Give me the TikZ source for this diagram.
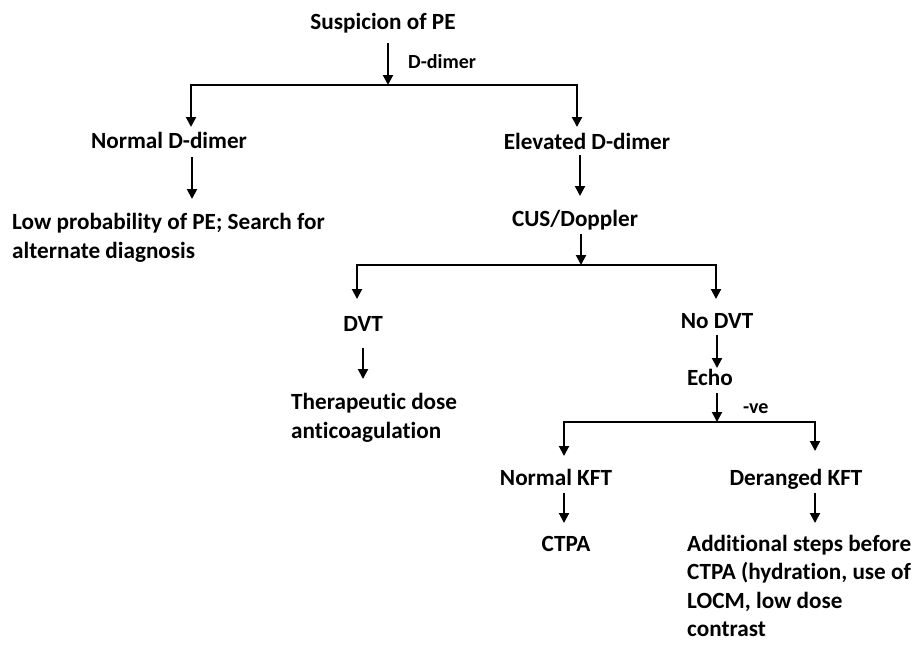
\documentclass[tikz,border=0pt]{standalone}
\usepackage{fontspec}
\setmainfont{Carlito}[Ligatures={NoCommon}]
\usetikzlibrary{arrows.meta}
\begin{document}
\begin{tikzpicture}[x=1pt,y=-1pt,
  txt/.style={inner sep=0pt,font=\fontsize{23.2}{29}\selectfont\bfseries},
  lbl/.style={inner sep=0pt,font=\fontsize{20}{24}\selectfont\bfseries},
  ml/.style={txt,align=left},
  arr/.style={line width=2pt,-{Triangle[length=10pt,width=10pt]}},
  ln/.style={line width=2pt}]
\useasboundingbox (0,0) rectangle (915,649);
% text nodes
\node[txt,anchor=base] (s) at (383,29) {Suspicion of PE};
\node[lbl,anchor=base west] (ddl) at (408,68) {D-dimer};
\node[txt,anchor=base] (nd) at (169,148) {Normal D-dimer};
\node[txt,anchor=base] (ed) at (587,149) {Elevated D-dimer};
\node[ml,anchor=base west] (lp) at (12,258) {Low probability of PE; Search for\\alternate diagnosis};
\node[txt,anchor=base] (cus) at (575,226) {CUS/Doppler};
\node[txt,anchor=base] (dvt) at (363,331) {DVT};
\node[txt,anchor=base] (ndvt) at (717,328) {No DVT};
\node[ml,anchor=base west] (th) at (291,438) {Therapeutic dose\\anticoagulation};
\node[txt,anchor=base] (echo) at (710,385) {Echo};
\node[lbl,anchor=base west] (ve) at (743,413) {-ve};
\node[txt,anchor=base] (nk) at (556,485) {Normal KFT};
\node[txt,anchor=base] (dk) at (796,485) {Deranged KFT};
\node[txt,anchor=base] (ctpa) at (566,551) {CTPA};
\node[ml,anchor=base west,font=\fontsize{23.2}{28.5}\selectfont\bfseries] (add) at (687,636.5) {Additional steps before\\CTPA (hydration, use of\\LOCM, low dose\\contrast};
% connector points
\coordinate (s-out) at (388,43);
\coordinate (j1) at (388,85);
\coordinate (j1l) at (191,85);
\coordinate (j1r) at (577,85);
\coordinate (nd-in) at (191,127);
\coordinate (ed-in) at (577,127);
\coordinate (nd-out) at (192,157);
\coordinate (lp-in) at (192,199);
\coordinate (ed-out) at (580,155);
\coordinate (cus-in) at (580,196);
\coordinate (cus-out) at (581,234);
\coordinate (j2) at (581,265);
\coordinate (j2l) at (357,265);
\coordinate (j2r) at (716,265);
\coordinate (dvt-in) at (357,299);
\coordinate (ndvt-in) at (716,299);
\coordinate (dvt-out) at (363,348);
\coordinate (th-in) at (363,379);
\coordinate (ndvt-out) at (717,335);
\coordinate (echo-in) at (717,368);
\coordinate (echo-out) at (717,393);
\coordinate (j3) at (717,422);
\coordinate (j3l) at (564,422);
\coordinate (j3r) at (815,422);
\coordinate (nk-in) at (564,456);
\coordinate (dk-in) at (815,451);
\coordinate (nk-out) at (564,493);
\coordinate (ctpa-in) at (564,523);
\coordinate (dk-out) at (815,493);
\coordinate (add-in) at (815,523);
% connectors
\draw[arr] (s-out) -- (j1);
\draw[ln,line cap=rect] (j1l) -- (j1r);
\draw[arr] (j1l) -- (nd-in);
\draw[arr] (j1r) -- (ed-in);
\draw[arr] (nd-out) -- (lp-in);
\draw[arr] (ed-out) -- (cus-in);
\draw[arr] (cus-out) -- (j2);
\draw[ln,line cap=rect] (j2l) -- (j2r);
\draw[arr] (j2l) -- (dvt-in);
\draw[arr] (j2r) -- (ndvt-in);
\draw[arr] (dvt-out) -- (th-in);
\draw[arr] (ndvt-out) -- (echo-in);
\draw[arr] (echo-out) -- (j3);
\draw[ln,line cap=rect] (j3l) -- (j3r);
\draw[arr] (j3l) -- (nk-in);
\draw[arr] (j3r) -- (dk-in);
\draw[arr] (nk-out) -- (ctpa-in);
\draw[arr] (dk-out) -- (add-in);
\end{tikzpicture}
\end{document}
